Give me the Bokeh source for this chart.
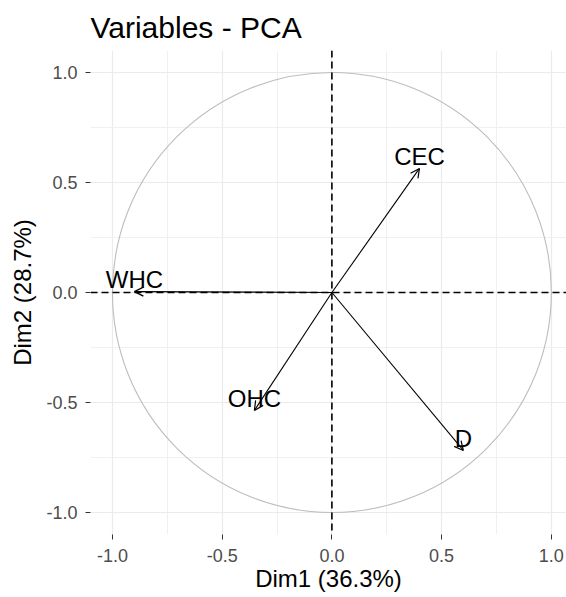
from bokeh.plotting import figure
from bokeh.models import (ColumnDataSource, Range1d, FixedTicker, Span, Arrow,
                          OpenHead)
from bokeh.core.properties import value
from bokeh.embed import file_html
from bokeh.resources import INLINE

# ---- data ----
variables = ["CEC", "WHC", "OHC", "D"]
dim1 = [0.399, -0.900, -0.353, 0.599]
dim2 = [0.564, 0.004, -0.536, -0.718]
circle_radius = 1.0
tick_values = [-1.0, -0.5, 0.0, 0.5, 1.0]
tick_labels = ["-1.0", "-0.5", "0.0", "0.5", "1.0"]
minor_values = [-0.75, -0.25, 0.25, 0.75]
title_text = "Variables - PCA"
xlab = "Dim1 (36.3%)"
ylab = "Dim2 (28.7%)"

FONT = "Liberation Sans"

p = figure(width=566, height=597,
           x_range=Range1d(-1.1, 1.069), y_range=Range1d(-1.1, 1.1),
           output_backend="svg", toolbar_location=None,
           min_border_left=90, min_border_right=0,
           min_border_top=50, min_border_bottom=63)
p.outline_line_color = None
p.background_fill_color = "white"
p.border_fill_color = "white"

p.title.text = title_text
p.title.text_font = FONT
p.title.text_font_size = "30px"
p.title.text_font_style = "normal"
p.title.text_color = "black"
p.title.align = "left"
p.title.standoff = 14

for ax in (p.xaxis[0], p.yaxis[0]):
    ax.ticker = FixedTicker(ticks=tick_values, minor_ticks=minor_values)
    ax.major_label_overrides = {v: l for v, l in zip(tick_values, tick_labels)}
    ax.axis_line_color = None
    ax.major_tick_line_color = "#333333"
    ax.major_tick_line_width = 1
    ax.major_tick_out = 5
    ax.major_tick_in = 0
    ax.minor_tick_line_color = None
    ax.major_label_text_font = FONT
    ax.major_label_text_font_size = "18px"
    ax.major_label_text_color = "#4D4D4D"
    ax.axis_label_text_font = FONT
    ax.axis_label_text_font_size = "24px"
    ax.axis_label_text_font_style = "normal"
    ax.axis_label_text_color = "black"
p.xaxis[0].axis_label = xlab
p.yaxis[0].axis_label = ylab
p.xaxis[0].major_label_standoff = 9
p.yaxis[0].major_label_standoff = 8
p.xaxis[0].axis_label_standoff = 0
p.yaxis[0].axis_label_standoff = 7

for g in (p.xgrid[0], p.ygrid[0]):
    g.grid_line_color = "#EBEBEB"
    g.grid_line_width = 1.2
    g.minor_grid_line_color = "#F0F0F0"
    g.minor_grid_line_width = 1

# correlation circle
p.ellipse(x=0, y=0, width=2 * circle_radius, height=2 * circle_radius,
          fill_color=None, line_color="#BDBDBD", line_width=1.1)

# dashed axes lines
p.add_layout(Span(location=0, dimension="width", line_color="black",
                  line_dash="7 4", line_width=1.6))
p.add_layout(Span(location=0, dimension="height", line_color="black",
                  line_dash="7 4", line_width=1.6))

# arrows
src = ColumnDataSource(dict(x0=[0.0] * len(dim1), y0=[0.0] * len(dim2),
                            x1=dim1, y1=dim2, name=variables))
p.add_layout(Arrow(end=OpenHead(size=9, line_width=1.2, line_color="black"),
                   x_start="x0", y_start="y0", x_end="x1", y_end="y1",
                   source=src, line_color="black", line_width=1.1))

# variable labels
txt = p.text(x="x1", y="y1", text="name", source=src, text_align="center",
             text_baseline="alphabetic", y_offset=-12,
             text_font=value(FONT), text_font_size="24px", text_color="black")
txt.level = "overlay"

open("out.html", "w").write(file_html(p, INLINE))
